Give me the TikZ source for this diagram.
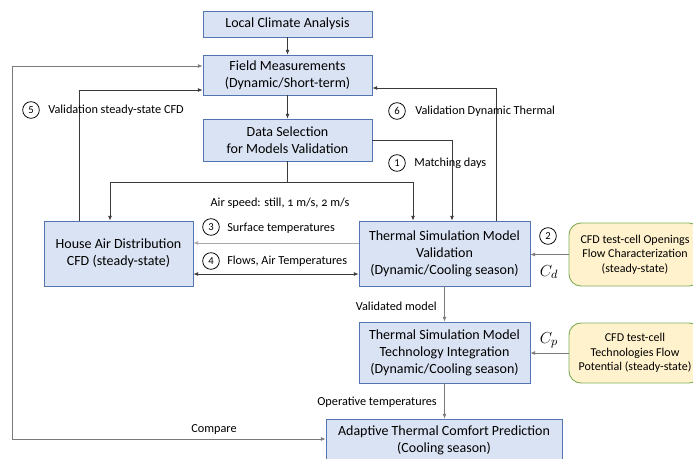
\documentclass[tikz,border=0pt]{standalone}
\usepackage{fontspec}
\setmainfont{Carlito}
\usetikzlibrary{arrows.meta}
\definecolor{boxfill}{HTML}{DAE3F3}
\definecolor{boxline}{HTML}{5274B0}
\definecolor{yfill}{HTML}{FFF2CC}
\definecolor{yline}{HTML}{82AE58}
\definecolor{linedark}{HTML}{3A3A3A}
\definecolor{linegray}{HTML}{7A7A7A}
\definecolor{linelight}{HTML}{A8A8A8}
\begin{document}
\begin{tikzpicture}[x=0.75pt,y=-0.75pt,
  box/.style={draw=boxline, fill=boxfill, line width=0.65pt, align=center, inner sep=0pt,
    font=\fontsize{10.5}{12.8}\selectfont},
  ybox/.style={draw=yline, fill=yfill, line width=0.7pt, rounded corners=9pt, align=center, inner sep=0pt,
    font=\fontsize{9}{11}\selectfont},
  lab/.style={inner sep=0pt, font=\fontsize{9.2}{10}\selectfont},
  num/.style={circle, draw=black, line width=0.6pt, minimum size=12.5pt, inner sep=0pt,
    font=\fontsize{8}{8}\selectfont},
  conn/.style={draw=linedark, line width=0.6pt, -{Latex[length=3.5pt,width=3pt]}},
  plain/.style={draw=linedark, line width=0.6pt}
]
\useasboundingbox (0,0) rectangle (693,458);
\clip (0,0) rectangle (693,458);
\fill[white] (0,0) rectangle (693,458);

% blue boxes
\node[box, minimum width=126.75pt, minimum height=19.5pt] (local) at (287.5,24) {Local Climate Analysis};
\node[box, minimum width=126.75pt, minimum height=30pt] (field) at (287.5,75) {Field Measurements\\(Dynamic/Short-term)};
\node[box, minimum width=126.75pt, minimum height=31.5pt] (data) at (287.5,140) {Data Selection\\for Models Validation};
\node[box, minimum width=111.75pt, minimum height=48.75pt] (house) at (118.5,253.5) {House Air Distribution\\CFD (steady-state)};
\node[box, minimum width=128.25pt, minimum height=48.75pt] (tval) at (444.5,253.5) {Thermal Simulation Model\\Validation\\(Dynamic/Cooling season)};
\node[box, minimum width=128.25pt, minimum height=45.75pt] (ttech) at (444.5,352.5) {Thermal Simulation Model\\Technology Integration\\(Dynamic/Cooling season)};
\node[box, minimum width=177pt, minimum height=31.5pt] (adapt) at (444,440) {Adaptive Thermal Comfort Prediction\\(Cooling season)};

% yellow boxes
\node[ybox, minimum width=99pt, minimum height=47.25pt] (yopen) at (635,254.5) {CFD test-cell Openings\\Flow Characterization\\(steady-state)};
\node[ybox, minimum width=99pt, minimum height=45pt] (ytech) at (635,353) {CFD test-cell\\Technologies Flow\\Potential (steady-state)};

% helper coordinates
\coordinate (cl) at (110,182);
\coordinate (cr) at (413,182);
\coordinate (cm) at (452,140);
\coordinate (c5) at (79,90);
\coordinate (c6) at (496,88);
\coordinate (co1) at (12,66);
\coordinate (co2) at (12,439);
\coordinate (c3) at (0,243);
\coordinate (c4) at (0,274);

% connectors
\draw[conn] (local) -- (field);
\draw[conn] (field) -- (data);
\draw[plain] (data.south) -- (data.south |- cl);
\draw[plain] (cl) -- (cr);
\draw[conn] (cl) -- (house.north -| cl);
\draw[conn] (cr) -- (tval.north -| cr);
\draw[conn] (data.east) -| (tval.north -| cm);
\draw[conn] (house.north -| c5) |- (field.west |- c5);
\draw[conn] (tval.north -| c6) |- (field.east |- c6);
\draw[conn, draw=linegray, {Latex[length=3.5pt,width=3pt]}-{Latex[length=3.5pt,width=3pt]}]
  (field.west |- co1) -- (co1) -- (co2) -- (adapt.west |- co2);
\draw[conn, draw=linelight] (tval.west |- c3) -- (house.east |- c3);
\draw[conn, {Latex[length=3.5pt,width=3pt]}-{Latex[length=3.5pt,width=3pt]}] (tval.west |- c4) -- (house.east |- c4);
\draw[conn, draw=linegray] (yopen.west) -- (tval.east |- yopen.west);
\draw[conn, draw=linegray] (ytech.west) -- (ttech.east |- ytech.west);
\draw[conn, draw=linegray] (tval) -- (ttech);
\draw[conn, draw=linegray] (ttech.south) -- (adapt.north -| ttech.south);

% labels
\node[num] (n5) at (31,110) {5};
\node[lab, anchor=west] (l5) at (48,110) {Validation steady-state CFD};
\node[num] (n6) at (397,111) {6};
\node[lab, anchor=west] (l6) at (415,111) {Validation Dynamic Thermal};
\node[num] (n1) at (397,163) {1};
\node[lab, anchor=west] (l1) at (414,163) {Matching days};
\node[lab] (air) at (280,203) {Air speed: still, {\addfontfeatures{Numbers=OldStyle}1} m/s, {\addfontfeatures{Numbers=OldStyle}2} m/s};
\node[num] (n3) at (211,227) {3};
\node[lab, anchor=west] (l3) at (227,228) {Surface temperatures};
\node[num] (n4) at (211,261) {4};
\node[lab, anchor=west] (l4) at (227,261) {Flows, Air Temperatures};
\node[num] (n2) at (548,236) {2};
\node[inner sep=0pt, font=\fontsize{12.5}{12}\selectfont] (cd) at (549,272) {$C_d$};
\node[inner sep=0pt, font=\fontsize{12.5}{12}\selectfont] (cp) at (549,340) {$C_p$};
\node[lab, anchor=east] (lv) at (437,306) {Validated model};
\node[lab, anchor=east] (lo) at (437,402) {Operative temperatures};
\node[lab] (lc) at (214,429) {Compare};
\end{tikzpicture}
\end{document}
